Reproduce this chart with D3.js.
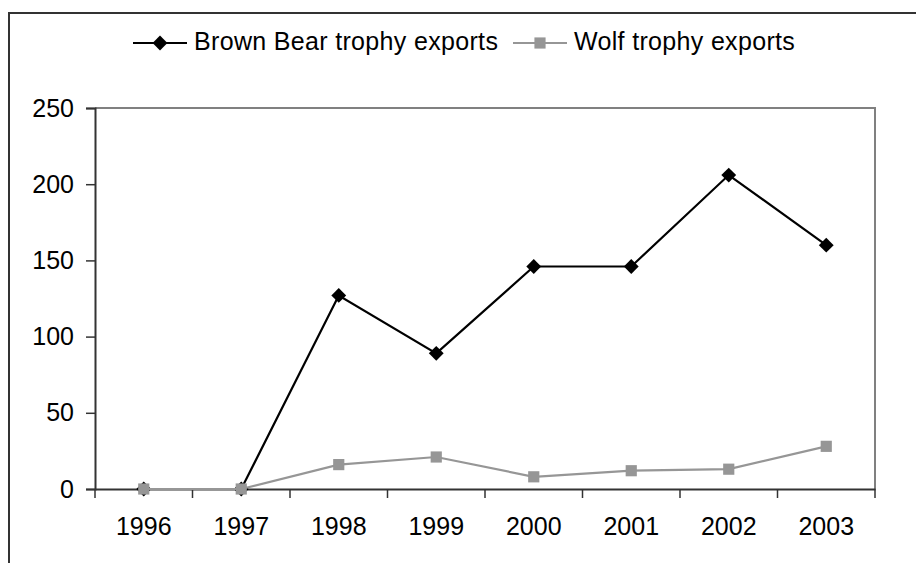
<!DOCTYPE html>
<html>
<head>
<meta charset="utf-8">
<script src="https://cdn.jsdelivr.net/npm/d3@7"></script>
<style>
  html, body { margin: 0; padding: 0; background: #fff; }
  svg { display: block; font-family: "Liberation Sans", Arial, sans-serif; }
</style>
</head>
<body>
<svg id="chart" width="916" height="563"></svg>
<script>
// Trophy exports per year
const years = ["1996", "1997", "1998", "1999", "2000", "2001", "2002", "2003"];
const bearExports = [0, 0, 127, 89, 146, 146, 206, 160];
const wolfExports = [0, 0, 16, 21, 8, 12, 13, 28];
const yTicks = [0, 50, 100, 150, 200, 250];
const seriesNames = ["Brown Bear trophy exports", "Wolf trophy exports"];

const svg = d3.select("#chart");
const plot = { left: 95, right: 875, top: 108, bottom: 489 };
const fontFamily = "Liberation Sans, Arial, sans-serif";

// Outer frame (runs past the right and bottom edges)
svg.append("rect")
  .attr("x", 9).attr("y", 13)
  .attr("width", 1000).attr("height", 1000)
  .attr("fill", "none").attr("stroke", "#333").attr("stroke-width", 2);

const x = d3.scaleBand().domain(years).range([plot.left, plot.right]);
const y = d3.scaleLinear().domain([0, 250]).range([plot.bottom, plot.top]);

// Plot-area border: gray top and right
svg.append("path")
  .attr("d", `M${plot.left},${plot.top}H${plot.right}V${plot.bottom}`)
  .attr("fill", "none").attr("stroke", "#808080").attr("stroke-width", 2);

// Y axis
const yAxis = svg.append("g")
  .attr("transform", `translate(${plot.left},0)`)
  .call(d3.axisLeft(y).tickValues(yTicks).tickSize(9).tickPadding(12));
yAxis.select(".domain").attr("stroke", "#333").attr("stroke-width", 2);
yAxis.selectAll(".tick line").attr("stroke", "#333").attr("stroke-width", 1.5);
yAxis.selectAll(".tick text").attr("font-size", 25).attr("fill", "#000")
  .attr("font-family", fontFamily);

// X axis: ticks between categories
const xAxis = svg.append("g")
  .attr("transform", `translate(0,${plot.bottom})`)
  .call(d3.axisBottom(x).tickSize(0).tickPadding(28));
xAxis.select(".domain").attr("stroke", "#333").attr("stroke-width", 2);
xAxis.selectAll(".tick text").attr("font-size", 25).attr("fill", "#000")
  .attr("font-family", fontFamily);
const bounds = years.map(d => x(d)).concat([x(years[years.length - 1]) + x.bandwidth()]);
xAxis.selectAll("line.sep").data(bounds).join("line")
  .attr("class", "sep")
  .attr("x1", d => d).attr("x2", d => d)
  .attr("y1", 0).attr("y2", 9)
  .attr("stroke", "#333").attr("stroke-width", 1.5);

const cx = d => x(d) + x.bandwidth() / 2;
const line = d3.line().x((d, i) => cx(years[i])).y(d => y(d));

const diamond = d3.symbol().type(d3.symbolSquare).size(110);
const square = d3.symbol().type(d3.symbolSquare).size(125);

// Bear series (black, diamonds)
svg.append("path").datum(bearExports)
  .attr("d", line).attr("fill", "none").attr("stroke", "#000").attr("stroke-width", 2.2);
svg.selectAll("path.bear").data(bearExports).join("path")
  .attr("class", "bear")
  .attr("d", diamond)
  .attr("transform", (d, i) => `translate(${cx(years[i])},${y(d)}) rotate(45)`)
  .attr("fill", "#000");

// Wolf series (gray, squares), drawn over the bear series
svg.append("path").datum(wolfExports)
  .attr("d", line).attr("fill", "none").attr("stroke", "#969696").attr("stroke-width", 2.2);
svg.selectAll("path.wolf").data(wolfExports).join("path")
  .attr("class", "wolf")
  .attr("d", square)
  .attr("transform", (d, i) => `translate(${cx(years[i])},${y(d)})`)
  .attr("fill", "#969696");

// Legend
const legendY = 43;
const legend = [
  { x0: 133, x1: 187, color: "#000", sym: diamond, rot: 45, tx: 194 },
  { x0: 513, x1: 567, color: "#969696", sym: square, rot: 0, tx: 574 }
];
legend.forEach((l, i) => {
  svg.append("line")
    .attr("x1", l.x0).attr("x2", l.x1).attr("y1", legendY).attr("y2", legendY)
    .attr("stroke", l.color).attr("stroke-width", 2.2);
  svg.append("path")
    .attr("d", l.sym)
    .attr("transform", `translate(${(l.x0 + l.x1) / 2},${legendY}) rotate(${l.rot})`)
    .attr("fill", l.color);
  svg.append("text")
    .attr("x", l.tx).attr("y", legendY + 7)
    .attr("font-size", 25).attr("letter-spacing", 0.33).attr("fill", "#000")
    .text(seriesNames[i]);
});
</script>
</body>
</html>
